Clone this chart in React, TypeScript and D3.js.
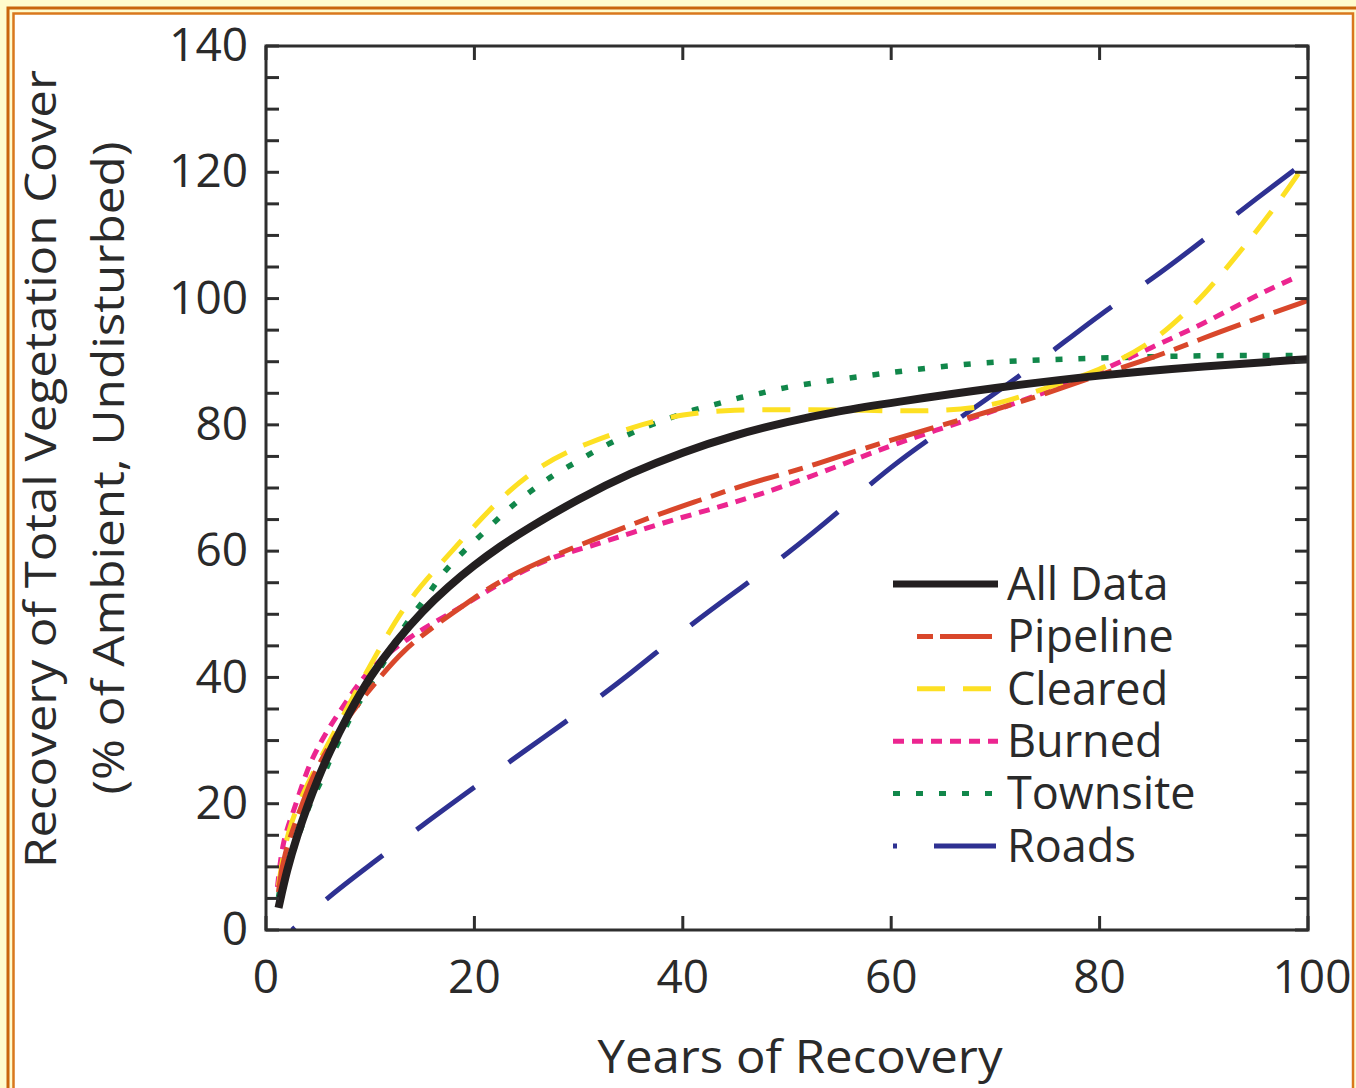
import React from "react";
import * as d3 from "d3";

// ---------- data ----------
const allDataX = [1.2, 2, 3, 4, 5, 6, 8, 10, 12.5, 15, 17.5, 20, 22.5, 25, 30, 35, 40, 45, 50, 55, 60, 70, 80, 90, 100];
const allDataY = [3.5, 9.5, 15, 19.8, 24, 27.9, 34.5, 40.2, 45.8, 50.5, 54.4, 57.8, 60.8, 63.5, 68.3, 72.4, 75.7, 78.4, 80.5, 82.2, 83.5, 85.9, 87.9, 89.3, 90.4];

const pipelineX = [1.2, 1.6, 3.6, 5, 7.8, 10.9, 13.2, 16, 19.3, 22.5, 27.3, 32, 36.9, 41.7, 46.4, 51.2, 55, 60, 65, 70, 75, 80, 85, 90, 95, 100];
const pipelineY = [6, 11.6, 20.6, 26.4, 33.7, 40, 44.3, 48, 51.8, 55.4, 59.1, 62.2, 65.4, 68.1, 70.8, 72.9, 75, 77.6, 80, 82.4, 85, 88, 90.5, 93.8, 96.8, 99.7];

const clearedX = [1.2, 2, 4, 6, 8.7, 11.2, 13.8, 17.7, 22.2, 26.6, 30.8, 35.2, 40, 45, 50, 55, 60, 65, 70, 75, 80, 85, 87.5, 90, 92.5, 95, 97.5, 100];
const clearedY = [7, 15.8, 23.3, 29.6, 38, 45.5, 52.7, 59.7, 68.1, 74, 77.1, 79.7, 81.8, 82.4, 82.4, 82.4, 82.2, 82.2, 83, 86, 88.5, 93, 96.6, 100.5, 105.5, 110.5, 116, 122];

const burnedX = [1.1, 1.6, 2.6, 3.9, 5, 6.1, 7.8, 9.3, 11.2, 13.8, 16, 18.6, 22.5, 27.3, 31.1, 35.2, 40, 44.8, 49.6, 55, 60, 65, 70, 75, 80, 85, 90, 95, 99];
const burnedY = [6.8, 14.3, 18.5, 25.3, 29, 32.2, 36.4, 40, 43.2, 46.4, 48.6, 51, 55, 59.1, 60.7, 63, 65.4, 67.6, 70.2, 73.5, 76.8, 79.5, 82.3, 85.3, 88.4, 92.3, 96, 100.5, 103.5];

const townsiteX = [1.2, 1.6, 2.6, 3.3, 4.2, 5.4, 6.1, 7.4, 8.3, 9.7, 10.9, 12.4, 13.6, 15.4, 16.9, 18.9, 21.2, 23.1, 25.3, 27.5, 29.8, 32, 34.3, 36.4, 38.8, 41, 43.1, 45.3, 47.6, 49.8, 55, 60, 65, 70, 75, 80, 90, 100];
const townsiteY = [5.2, 9, 12.2, 15.8, 20.1, 23.8, 27, 31.2, 34.4, 38, 41.2, 45.5, 49.1, 52.6, 56.5, 59.9, 63.4, 66.5, 69.4, 72, 74.1, 76.3, 78.1, 79.7, 81.1, 82.4, 83.2, 84.3, 85, 86, 87.2, 88.3, 89.3, 90, 90.3, 90.6, 91, 91];

const roadsX = [2.5, 6, 10, 15, 20, 25, 30, 35, 40, 45, 50, 55, 60, 65, 70, 75, 80, 85, 90, 95, 100];
const roadsY = [0, 5.3, 10.3, 16.6, 22.6, 28.6, 34.4, 40.6, 47.4, 53.5, 59.5, 66.3, 73.5, 79.3, 85, 91, 97.5, 103, 109.3, 115.8, 122];

const xTicks = [0, 20, 40, 60, 80, 100];
const yTicks = [0, 20, 40, 60, 80, 100, 120, 140];
const legendLabels = ["All Data", "Pipeline", "Cleared", "Burned", "Townsite", "Roads"];

// ---------- styles ----------
const series = [
  { name: "Roads", xs: roadsX, ys: roadsY, color: "#2e3192", width: 5, dash: "72 42", offset: 68, legendDash: "4 37 80 40", lx0: 893, lx1: 996 },
  { name: "Townsite", xs: townsiteX, ys: townsiteY, color: "#11874a", width: 5.5, dash: "7 16", offset: 0, legendDash: "7 16", lx0: 893, lx1: 998 },
  { name: "Burned", xs: burnedX, ys: burnedY, color: "#ec2590", width: 5, dash: "11 8", offset: 0, legendDash: "11 8", lx0: 893, lx1: 998 },
  { name: "Cleared", xs: clearedX, ys: clearedY, color: "#fde023", width: 5, dash: "28 18", offset: 0, legendDash: "28 18", lx0: 917, lx1: 992 },
  { name: "Pipeline", xs: pipelineX, ys: pipelineY, color: "#d9472b", width: 5, dash: "46 10 15 10", offset: 0, legendDash: "16 7 52 10", lx0: 917, lx1: 992 },
  { name: "All Data", xs: allDataX, ys: allDataY, color: "#231f20", width: 8, dash: "none", offset: 0, legendDash: "none", lx0: 893, lx1: 998 },
];

const FONT = "'Open Sans', 'Noto Sans', sans-serif";
const TXT = "#2a2a2a";

export default function App() {
  const W = 1356, H = 1088;
  const x = d3.scaleLinear().domain([0, 100]).range([266, 1308]);
  const y = d3.scaleLinear().domain([0, 140]).range([930, 46]);
  const line = d3.line<[number, number]>().x((d) => x(d[0])).y((d) => y(d[1])).curve(d3.curveBasis);

  const minorY = d3.range(0, 141, 5);
  const legendY0 = 584, legendStep = 52.4;
  const legendOrder = legendLabels.map((l) => series.find((s) => s.name === l)!);

  return (
    <svg width={W} height={H} style={{ position: "absolute", left: 0, top: 0, display: "block" }}>
      <rect x={0} y={0} width={W} height={H} fill="#fffbcd" />
      <rect x={8} y={8} width={1500} height={1300} fill="none" stroke="#c9650c" strokeWidth={3} />
      <rect x={13.5} y={13.5} width={1339.5} height={1300} fill="#ffffff" stroke="#d9781c" strokeWidth={2.5} />

      <defs>
        <clipPath id="plotclip">
          <rect x={266} y={46} width={1042} height={884} />
        </clipPath>
      </defs>

      {/* series */}
      <g clipPath="url(#plotclip)">
        {series.map((s) => (
          <path
            key={s.name}
            d={line(s.xs.map((v, i) => [v, s.ys[i]] as [number, number])) || ""}
            fill="none"
            stroke={s.color}
            strokeWidth={s.width}
            strokeDasharray={s.dash}
            strokeDashoffset={s.offset}
            strokeLinecap="butt"
            strokeLinejoin="round"
          />
        ))}
      </g>

      {/* axes box */}
      <rect x={266} y={46} width={1042} height={884} fill="none" stroke="#2e2e2e" strokeWidth={3} />
      {minorY.map((v) => (
        <g key={"yt" + v} stroke="#2e2e2e" strokeWidth={3}>
          <line x1={266} x2={279} y1={y(v)} y2={y(v)} />
          <line x1={1308} x2={1295} y1={y(v)} y2={y(v)} />
        </g>
      ))}
      {xTicks.map((v) => (
        <g key={"xt" + v} stroke="#2e2e2e" strokeWidth={3}>
          <line x1={x(v)} x2={x(v)} y1={930} y2={916} />
          <line x1={x(v)} x2={x(v)} y1={46} y2={60} />
        </g>
      ))}

      {/* tick labels */}
      {yTicks.map((v) => (
        <text key={"yl" + v} x={248} y={y(v)} dy="0.33em" textAnchor="end" fontFamily={FONT} fontSize={46} fill={TXT}>
          {v}
        </text>
      ))}
      {xTicks.map((v) => (
        <text key={"xl" + v} x={x(v) + (v === 100 ? 4 : 0)} y={993} textAnchor="middle" fontFamily={FONT} fontSize={46} fill={TXT}>
          {v}
        </text>
      ))}

      {/* axis titles */}
      <text x={800} y={1073} textAnchor="middle" fontFamily={FONT} fontSize={46} textLength={405} lengthAdjust="spacingAndGlyphs" fill={TXT}>
        Years of Recovery
      </text>
      <text transform="translate(56,469) rotate(-90)" textAnchor="middle" fontFamily={FONT} fontSize={44} textLength={798} lengthAdjust="spacingAndGlyphs" fill={TXT}>
        Recovery of Total Vegetation Cover
      </text>
      <text transform="translate(124,468) rotate(-90)" textAnchor="middle" fontFamily={FONT} fontSize={44} textLength={653} lengthAdjust="spacingAndGlyphs" fill={TXT}>
        (% of Ambient, Undisturbed)
      </text>

      {/* legend */}
      {legendOrder.map((s, i) => {
        const ly = legendY0 + i * legendStep;
        return (
          <g key={"lg" + s.name}>
            <line x1={s.lx0} x2={s.lx1} y1={ly} y2={ly} stroke={s.color} strokeWidth={s.name === "All Data" ? 7 : 5} strokeDasharray={s.legendDash} />
            <text x={1007} y={ly} dy="0.35em" fontFamily={FONT} fontSize={45} fill={TXT}>
              {s.name}
            </text>
          </g>
        );
      })}
    </svg>
  );
}
